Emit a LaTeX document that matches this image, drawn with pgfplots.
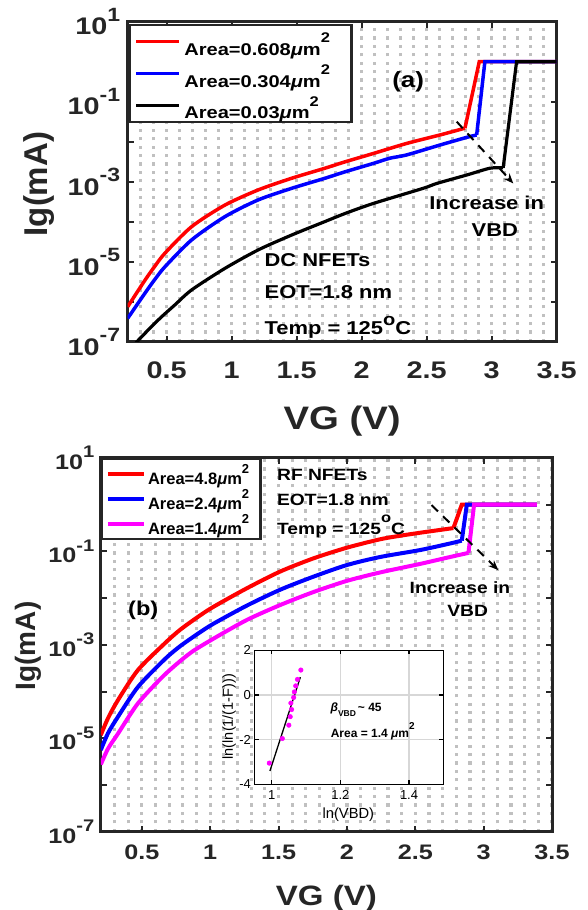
\documentclass[border=0pt]{standalone}
\usepackage{fontspec}
\setmainfont{Liberation Sans}[FakeStretch=1.18]
\newfontfamily\plainfont{Liberation Sans}
\newfontfamily\tickfont{Liberation Sans}[FakeStretch=1.2]
\usepackage{pgfplots}
\pgfplotsset{compat=1.18}
\usetikzlibrary{arrows.meta}

\definecolor{axgray}{RGB}{38,38,38}
\definecolor{dotgray}{RGB}{192,192,192}
\definecolor{gridgray}{RGB}{215,215,215}
\definecolor{mred}{RGB}{255,0,0}
\definecolor{mblue}{RGB}{0,0,255}
\definecolor{mmag}{RGB}{255,0,255}

\newcommand{\fs}[1]{\fontsize{#1}{#1}\selectfont}
\newcommand{\tl}[1]{10\raisebox{0.55em}{\scalebox{0.8}{#1}}}
\newcommand{\um}{{\itshape μ}m}
\newcommand{\sq}[2]{\raisebox{#1}{\fs{#2}2}}
\newcommand{\dg}[2]{\raisebox{#1}{\fs{#2}o}}

\pgfplotsset{
  ivpanel/.style={
    scale only axis,
    xmin=0.2, xmax=3.5, ymin=1e-7, ymax=1e1,
    axis line style={line width=3pt, draw=axgray},
    tick style={line width=2pt, draw=axgray},
    tick align=inside, major tick length=6pt, minor tick length=0pt,
    xtick={0.5,1,...,3.5}, xticklabels={0.5,1,1.5,2,2.5,3,3.5},
    minor xtick={0.2,0.3,...,3.45},
    ytick={1e-7,1e-6,1e-5,1e-4,1e-3,1e-2,1e-1,1e0,1e1},
    yticklabels={\tl{-7},,\tl{-5},,\tl{-3},,\tl{-1},,\tl{1}},
    xmajorgrids, xminorgrids,
    grid style={dotgray, line width=3.2pt, dash pattern=on 3.2pt off 5.2pt},
    /pgf/number format/assume math mode=true,
    ticklabel style={text=axgray},
    legend cell align=left,
  },
  smoothpart/.style={smooth, tension=0.45},
}

\begin{document}
\begin{tikzpicture}

% ---------------- (a) DC NFETs ----------------
\begin{axis}[ymode=log, ivpanel, name=pa,
  at={(127.7pt,568pt)}, anchor=south west, width=428.9pt, height=320.3pt,
  ticklabel style={font=\tickfont\bfseries\fs{24}},
  yticklabel style={xshift=-4pt}, xticklabel style={yshift=-16.5pt},
  ylabel={Ig(mA)},
  ylabel style={at={(axis description cs:-0.186,0.493)}, anchor=base, font=\plainfont\bfseries\fs{33}, text=axgray},
  legend style={at={(axis description cs:0.003,0.993)}, anchor=north west,
    draw=axgray, line width=2.5pt, fill=white,
    inner xsep=4.3pt, inner ysep=1.5pt, row sep=1.85pt, /tikz/column sep=3.3pt,
    nodes={inner sep=0pt, font=\bfseries\fs{17}, text=black}},
  legend image code/.code={\draw[#1, line width=3.5pt] (0pt,0pt) -- (43pt,0pt);},
]
\addplot[mred, line width=3.5pt, smoothpart] coordinates {
  (0.2,7.6e-7) (0.333,3.5e-6) (0.41,7.9e-6) (0.487,1.66e-5) (0.692,7.6e-5)
  (0.948,2.63e-4) (1.205,6.3e-4) (1.462,1.23e-3) (1.718,2.19e-3) (1.872,3.16e-3)
  (2.089,5.1e-3) (2.346,9.1e-3) (2.602,1.48e-2) (2.795,2.19e-2)};
\addlegendentry{\rule[-3.5pt]{0pt}{32pt}\makebox[162.8pt][l]{Area=0.608\um\sq{12.3pt}{14}}}
\addplot[mred, line width=3.5pt, forget plot] coordinates {(2.795,2.19e-2) (2.905,1) (3.5,1)};
\addplot[mblue, line width=3.5pt, smoothpart] coordinates {
  (0.2,3.9e-7) (0.333,1.66e-6) (0.41,3.7e-6) (0.487,7.6e-6) (0.692,3.55e-5)
  (0.948,1.35e-4) (1.205,3.55e-4) (1.462,6.9e-4) (1.718,1.23e-3) (1.872,1.78e-3)
  (2.089,2.88e-3) (2.218,3.9e-3) (2.346,4.7e-3) (2.602,8.3e-3) (2.808,1.29e-2)
  (2.885,1.48e-2)};
\addlegendentry{\rule[-3.5pt]{0pt}{32pt}\makebox[162.8pt][l]{Area=0.304\um\sq{12.3pt}{14}}}
\addplot[mblue, line width=3.5pt, forget plot] coordinates {(2.885,1.48e-2) (2.948,1) (3.5,1)};
\addplot[black, line width=3.2pt, smoothpart] coordinates {
  (0.2,5.0e-8) (0.269,1.0e-7) (0.435,3.55e-7) (0.564,8.5e-7) (0.692,2.0e-6)
  (0.948,6.9e-6) (1.205,2.0e-5) (1.462,4.7e-5) (1.718,1.02e-4) (1.872,1.62e-4)
  (2.089,2.88e-4) (2.474,6.9e-4) (2.577,9.1e-4) (2.808,1.48e-3) (2.987,2.19e-3)
  (3.089,2.24e-3)};
\addlegendentry{\rule[-3.5pt]{0pt}{32pt}\makebox[162.8pt][l]{Area=0.03\um\sq{12.3pt}{14}}}
\addplot[black, line width=3.2pt, forget plot] coordinates {(3.089,2.24e-3) (3.192,1) (3.5,1)};

\node[font=\bfseries\fs{22}, text=black] at (rel axis cs:0.654,0.813) {(a)};
\node[anchor=base west, font=\bfseries\fs{18.6}, text=black] at (rel axis cs:0.311,0.235) {DC NFETs};
\node[anchor=base west, font=\bfseries\fs{18.6}, text=black] at (rel axis cs:0.311,0.136) {EOT=1.8 nm};
\node[anchor=base west, font=\bfseries\fs{18.6}, text=black] at (rel axis cs:0.311,0.022) {Temp = 125\dg{9pt}{17}C};
\node[font=\bfseries\fs{18.6}, text=black] at (rel axis cs:0.837,0.433) {Increase in};
\node[font=\bfseries\fs{18.6}, text=black] at (rel axis cs:0.856,0.350) {VBD};
\draw[black, line width=2pt, dash pattern=on 9pt off 7pt, -{Stealth[length=10pt,width=8pt]}]
  (rel axis cs:0.767,0.688) -- (rel axis cs:0.899,0.495);
\end{axis}
\node[anchor=base, font=\bfseries\fs{32.5}, text=axgray] at ([yshift=-88pt]pa.south) {VG (V)};

% ---------------- (b) RF NFETs ----------------
\begin{axis}[ymode=log, ivpanel, name=pb,
  at={(100.8pt,78.3pt)}, anchor=south west, width=451.2pt, height=373.7pt,
  ticklabel style={font=\tickfont\bfseries\fs{21}},
  yticklabel style={xshift=-3pt}, xticklabel style={yshift=-9.6pt},
  ylabel={Ig(mA)},
  ylabel style={at={(axis description cs:-0.1445,0.497)}, anchor=base, font=\plainfont\bfseries\fs{28}, text=axgray},
  legend style={at={(axis description cs:0,1)}, anchor=north west,
    draw=axgray, line width=2.5pt, fill=white,
    inner xsep=3.9pt, inner ysep=3.6pt, row sep=2pt, /tikz/column sep=2.3pt,
    nodes={inner sep=0pt, font=\plainfont\bfseries\fs{16.5}, text=black}},
  legend image code/.code={\draw[#1, line width=3.8pt] (0pt,0pt) -- (36pt,0pt);},
]
\addplot[mred, line width=4pt, smoothpart] coordinates {
  (0.2,1.17e-5) (0.253,2.7e-5) (0.326,6.6e-5) (0.472,2.9e-4) (0.667,1.07e-3)
  (0.779,2.09e-3) (0.911,3.98e-3) (1.023,6.5e-3) (1.267,1.62e-2) (1.511,3.7e-2)
  (1.755,7.1e-2) (1.999,0.120) (2.243,0.182) (2.40,0.219) (2.535,0.251)
  (2.657,0.282) (2.779,0.316)};
\addlegendentry{\rule[-4pt]{0pt}{25.4pt}\makebox[108.7pt][l]{Area=4.8\um\sq{10.7pt}{13}}}
\addplot[mred, line width=4pt, forget plot] coordinates {(2.779,0.316) (2.840,1) (3.389,1)};
\addplot[mblue, line width=4pt, smoothpart] coordinates {
  (0.2,5.6e-6) (0.253,1.29e-5) (0.326,2.9e-5) (0.472,1.26e-4) (0.667,4.9e-4)
  (0.779,9.3e-4) (0.911,1.74e-3) (1.023,2.82e-3) (1.267,6.9e-3) (1.511,1.51e-2)
  (1.755,2.88e-2) (1.999,5.1e-2) (2.243,7.6e-2) (2.535,0.107) (2.755,0.148)
  (2.840,0.170)};
\addlegendentry{\rule[-4pt]{0pt}{25.4pt}\makebox[108.7pt][l]{Area=2.4\um\sq{10.7pt}{13}}}
\addplot[mblue, line width=4pt, forget plot] coordinates {(2.840,0.170) (2.877,1) (3.389,1)};
\addplot[mmag, line width=4pt, smoothpart] coordinates {
  (0.2,2.75e-6) (0.253,6.0e-6) (0.326,1.26e-5) (0.472,5.6e-5) (0.667,2.29e-4)
  (0.852,6.6e-4) (1.023,1.35e-3) (1.267,3.4e-3) (1.511,7.1e-3) (1.755,1.35e-2)
  (1.999,2.34e-2) (2.243,3.55e-2) (2.535,5.4e-2) (2.755,7.6e-2) (2.889,9.3e-2)};
\addlegendentry{\rule[-4pt]{0pt}{25.4pt}\makebox[108.7pt][l]{Area=1.4\um\sq{10.7pt}{13}}}
\addplot[mmag, line width=4pt, forget plot] coordinates {(2.889,9.3e-2) (2.930,1) (3.389,1)};

\node[font=\bfseries\fs{20}, text=black] at (rel axis cs:0.094,0.593) {(b)};
\node[anchor=base west, font=\bfseries\fs{16.3}, text=black] at (rel axis cs:0.383,0.941) {RF NFETs};
\node[anchor=base west, font=\bfseries\fs{16.3}, text=black] at (rel axis cs:0.383,0.873) {EOT=1.8 nm};
\node[anchor=base west, font=\bfseries\fs{16.3}, text=black] at (rel axis cs:0.383,0.795) {Temp = 125\dg{11.7pt}{14}C};
\node[anchor=base, font=\bfseries\fs{16.3}, text=black] at (rel axis cs:0.796,0.638) {Increase in};
\node[anchor=base, font=\bfseries\fs{16.3}, text=black] at (rel axis cs:0.813,0.577) {VBD};
\draw[black, line width=2pt, dash pattern=on 9pt off 7pt, -{Stealth[length=10pt,width=8pt]}]
  (rel axis cs:0.733,0.874) -- (rel axis cs:0.881,0.700);
\end{axis}
\node[anchor=base, font=\bfseries\fs{28}, text=axgray] at ([yshift=-73.3pt]pb.south) {VG (V)};

% ---------------- inset: Weibull plot ----------------
\begin{axis}[scale only axis,
  at={(254.5pt,125.7pt)}, anchor=south west, width=188.9pt, height=133.9pt,
  xmin=0.95, xmax=1.5, ymin=-4, ymax=2,
  xtick={1,1.2,1.4}, xticklabels={1,1.2,1.4},
  ytick={-4,-2,0,2}, yticklabels={-4,-2,0,2},
  grid=major, major grid style={gridgray, line width=1.3pt},
  axis background/.style={fill=white},
  axis line style={line width=1.5pt, draw=black},
  tick style={line width=1.2pt, draw=black},
  tick align=inside, major tick length=4pt,
  ticklabel style={font=\plainfont\fs{13}, text=black},
  xticklabel style={yshift=-3pt},
  xlabel={ln(VBD)}, ylabel={ln(ln(1/(1-F)))},
  xlabel style={at={(axis description cs:0.497,-0.259)}, anchor=base, font=\plainfont\fs{14.7}},
  ylabel style={at={(axis description cs:-0.114,0.505)}, anchor=base, font=\plainfont\fs{14.5}},
]
\addplot[only marks, mark=*, mark size=2.3pt, mmag] coordinates {
  (0.993,-3.05) (1.031,-1.95) (1.050,-1.35) (1.054,-0.97) (1.058,-0.65)
  (1.056,-0.36) (1.064,-0.11) (1.066,0.14) (1.070,0.41) (1.075,0.70) (1.085,1.12)};
\addplot[black, line width=1.3pt] coordinates {(0.995,-3.40) (1.0835,0.80)};
\node[anchor=base west, font=\plainfont\bfseries\fs{12}] at (rel axis cs:0.384,0.540)
  {{\itshape β}\raisebox{-5pt}{\fs{8.5}VBD}\,\textasciitilde\ 45};
\node[anchor=base west, font=\plainfont\bfseries\fs{12}] at (rel axis cs:0.385,0.348)
  {Area = 1.4 {\itshape μ}m\raisebox{8.5pt}{\fs{10}2}};
\end{axis}

\pgfresetboundingbox
\path[use as bounding box] (0,0) rectangle (587pt,910pt);
\end{tikzpicture}
\end{document}
